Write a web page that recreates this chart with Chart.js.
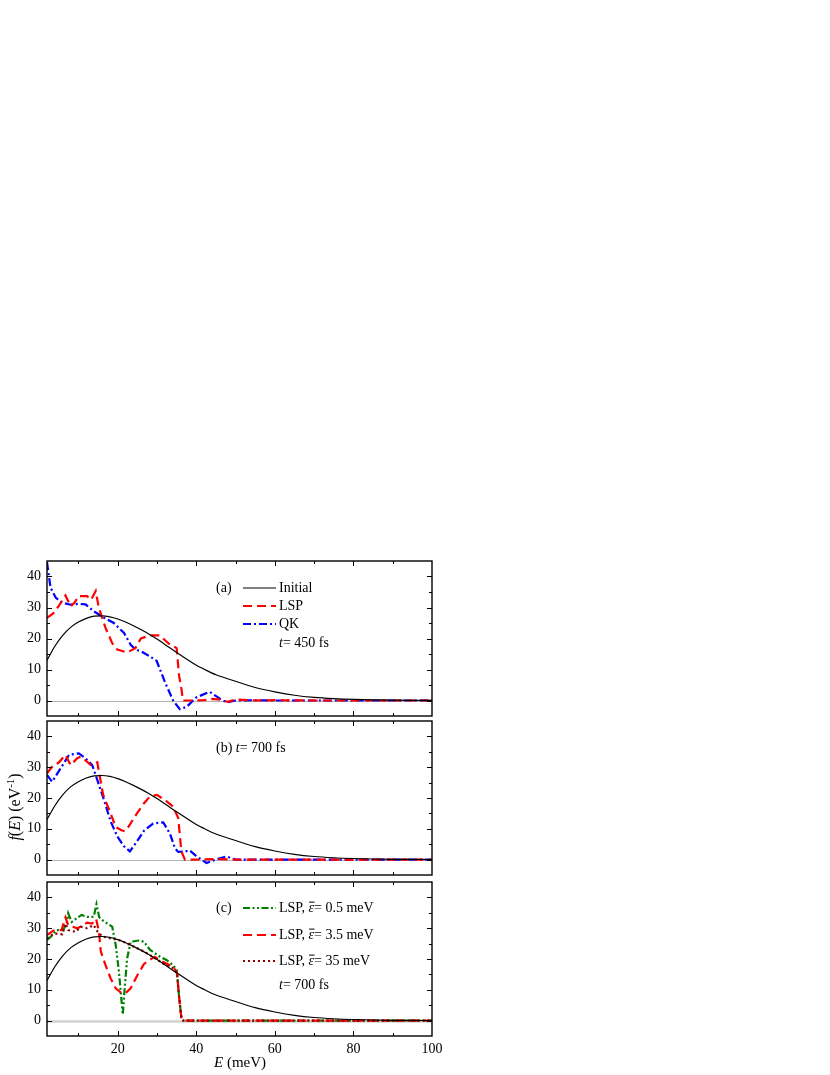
<!DOCTYPE html>
<html lang="en">
<head>
  <meta charset="UTF-8" />
  <title>f(E) at t = 450 fs and 700 fs</title>
  <script src="https://cdn.jsdelivr.net/npm/chart.js"></script>
  <style>
    html, body {
      margin: 0;
      padding: 0;
      background-color: white;
    }
    body {
      width: 830px;
      height: 1075px;
      position: relative;
      overflow: hidden;
    }
    .panel {
      position: absolute;
      left: 0;
    }
  </style>
</head>
<body>
  <canvas id="pa" class="panel" width="470" height="165" style="top:556px"></canvas>
  <canvas id="pb" class="panel" width="470" height="164" style="top:716px"></canvas>
  <canvas id="pc" class="panel" width="470" height="198" style="top:877px"></canvas>

  <script>
    const FONT = '"Liberation Serif", "DejaVu Serif", serif';
    const xTicks = [20, 40, 60, 80, 100];
    const yTicks = [0, 10, 20, 30, 40];

    // Initial distribution (same in all panels)
    const initE = [2, 4, 6, 8, 10, 12, 14, 16, 18, 20, 22, 24, 26, 28, 30, 32, 35, 38, 40, 42, 45, 50, 55, 60, 65, 70, 75, 80, 85, 90, 95, 100];
    const initF = [13, 17.5, 21, 23.6, 25.3, 26.5, 27.2, 27.3, 27, 26.3, 25.3, 24.1, 22.8, 21.4, 19.8, 18.1, 15.5, 13, 11.4, 10.1, 8.3, 6.2, 4.2, 2.8, 1.7, 1.0, 0.6, 0.35, 0.2, 0.1, 0.05, 0.03];

    // (a) t = 450 fs
    const lspAE = [2, 3.5, 5, 6.7, 8, 9, 10, 12.2, 13.2, 14.4, 15.2, 16.9, 18.6, 19.9, 22.4, 24.5, 25.9, 28.2, 30.7, 33.3, 35, 35.6, 36.2, 36.6, 40, 42, 44, 46, 48, 50, 55, 60, 70, 80, 90, 100];
    const lspAF = [26.7, 28, 30.5, 33.9, 30.4, 31.5, 33.7, 33.7, 32.5, 35.3, 29.9, 23.4, 18.5, 16.4, 15.5, 16.9, 20, 21, 21, 18, 16.9, 8.2, 3.9, 0, 0, 0.1, 0.5, 0.3, -0.4, 0.3, 0, 0.1, 0, 0, 0, 0];
    const qkAE = [2, 2.9, 4.2, 5.9, 8, 10, 11.8, 13.9, 16.5, 19, 21.6, 23.3, 24.5, 26, 28.2, 29.9, 32, 34.1, 35.8, 37.5, 40, 43.4, 46, 47.7, 50, 55, 60, 70, 80, 90, 100];
    const qkAF = [44.6, 36.4, 33.2, 31.5, 30.9, 31.2, 31, 28.8, 26.7, 25, 21.8, 18, 16.5, 15.8, 14.2, 12.8, 6, 0, -2.8, -2.1, 1, 2.8, 0.6, -0.6, 0, 0.1, 0, 0, 0, 0, 0];

    // (b) t = 700 fs
    const lspBE = [2, 3.5, 5, 6.7, 8, 9.7, 10.6, 12, 13.1, 14.8, 15.3, 16.3, 18.2, 19.5, 21, 21.8, 22.8, 24.9, 26.7, 28.2, 30, 32.4, 34.1, 35.4, 35.8, 36.2, 37.1, 40, 45, 50, 60, 70, 80, 90, 100];
    const lspBF = [28, 30.5, 31.5, 34, 30.7, 32.9, 33.4, 32, 30.7, 31.6, 28, 21, 15, 10.5, 9.5, 9.2, 10.8, 15, 18.3, 20.5, 21, 19, 17.2, 13.5, 8.1, 2.7, 0, 0, 0.2, 0, 0, 0, 0, 0, 0];
    const qkBE = [2, 3.3, 5.5, 7.6, 10.1, 11.8, 13.5, 14.8, 16.5, 18.2, 19.9, 21.6, 23.1, 24.9, 26.7, 29, 31.6, 33.3, 34.6, 35.4, 37, 38.3, 40, 42.6, 45, 47.7, 50, 60, 70, 80, 90, 100];
    const qkBF = [27.5, 25.3, 29.7, 34, 34.5, 32.9, 30.7, 25.9, 19.4, 12.4, 7.5, 4.3, 2.7, 5.9, 9.4, 11.7, 12.1, 8.4, 3.6, 2.5, 2.6, 3, 1.1, -1.1, 0, 1, 0, 0, 0, 0, 0, 0];

    // (c) LSP with different energy resolution
    const e05E = [2, 2.8, 4.5, 6.1, 7, 7.4, 8.3, 9.5, 10.8, 12.2, 13.9, 14.6, 15.3, 16.5, 18.6, 19.5, 20.3, 21, 21.3, 21.8, 22.4, 23.3, 25.4, 26.7, 28.2, 30.7, 32.4, 34.1, 35, 35.6, 36.2, 36.7, 40, 50, 60, 70, 80, 90, 100];
    const e05F = [26.2, 27, 29.4, 29.4, 31.6, 34.8, 32, 33.2, 34.3, 33.7, 33.7, 37.8, 33.5, 32.2, 30.5, 24.5, 16, 6, 2, 11, 20.2, 25.6, 26, 25.6, 23, 20.8, 19.7, 18, 16.5, 8, 1, 0, 0, 0, 0, 0, 0, 0, 0];
    const e35E = [2, 3.6, 5.7, 6.7, 7.4, 8.5, 9.7, 11, 12.2, 13.5, 14.5, 15.2, 15.7, 16.9, 18.2, 19.5, 20.7, 22, 23.3, 24.9, 26.7, 28.2, 29.4, 31.6, 34.1, 35.1, 35.6, 36.2, 36.7, 40, 50, 60, 70, 80, 90, 100];
    const e35F = [27.8, 29.2, 29.4, 33.5, 31, 30.5, 30, 30.8, 31.8, 31.5, 33, 29, 22.4, 18, 13.7, 10.5, 9.2, 8.9, 10.5, 14.5, 18.4, 19.8, 20.7, 19, 17.5, 15.5, 8, 1, 0, 0, 0, 0, 0, 0, 0, 0];
    const e350E = [2, 3.8, 5.9, 6.7, 7.4, 9.3, 10.6, 12.2, 13.9, 14.8, 16.1, 18.2, 20.7, 23.3, 25.8, 28.2, 31.6, 34.1, 35.1, 35.6, 36.2, 36.7, 40, 50, 60, 70, 80, 90, 100];
    const e350F = [26.7, 28.3, 28, 31.5, 29.4, 28.8, 30.5, 30, 31, 29, 27.3, 26.7, 26, 24.5, 23, 21.3, 18.5, 17, 15.4, 8, 1, 0, 0, 0, 0, 0, 0, 0, 0];

    const STY = {
      initial: { color: '#000000', dash: [], width: 1.2 },
      lsp:     { color: '#ff0000', dash: [9, 5], width: 2.2 },
      qk:      { color: '#0000ff', dash: [8, 3, 2, 3], width: 2.2 },
      e05:     { color: '#008000', dash: [7, 2.5, 2, 2.5, 2, 2.5], width: 2.2 },
      e35:     { color: '#ff0000', dash: [9, 5], width: 2.2 },
      e350:    { color: '#8b0000', dash: [2, 3], width: 2.2 }
    };

    function series(label, xs, ys, st, smooth) {
      return {
        label: label,
        data: xs.map((x, i) => ({ x: x, y: ys[i] })),
        borderColor: st.color,
        borderDash: st.dash,
        borderWidth: st.width,
        pointRadius: 0,
        fill: false,
        tension: smooth ? 0.4 : 0,
        cubicInterpolationMode: smooth ? 'monotone' : 'default'
      };
    }

    function setFont(ctx, r, size) {
      const sz = r.sup ? size * 0.68 : size;
      ctx.font = (r.italic ? 'italic ' : '') + sz + 'px ' + FONT;
    }

    function runsWidth(ctx, runs, size) {
      let w = 0;
      for (const r of runs) { setFont(ctx, r, size); w += ctx.measureText(r.t).width; }
      return w;
    }

    // text made of normal / italic / superscript pieces
    function drawRuns(ctx, x, y, runs, size) {
      ctx.save();
      ctx.fillStyle = '#000';
      ctx.strokeStyle = '#000';
      ctx.textBaseline = 'middle';
      ctx.textAlign = 'left';
      for (const r of runs) {
        setFont(ctx, r, size);
        const dy = r.sup ? -size * 0.33 : 0;
        ctx.fillText(r.t, x, y + dy);
        const w = ctx.measureText(r.t).width;
        if (r.bar) {
          ctx.lineWidth = 1;
          ctx.beginPath();
          ctx.moveTo(x + 0.5, y - size * 0.42);
          ctx.lineTo(x + w + 0.5, y - size * 0.42);
          ctx.stroke();
        }
        x += w;
      }
      ctx.restore();
      return x;
    }

    function sample(ctx, x1, x2, y, st) {
      ctx.save();
      ctx.strokeStyle = st.color;
      ctx.lineWidth = st.width;
      ctx.setLineDash(st.dash);
      ctx.beginPath();
      ctx.moveTo(x1, y);
      ctx.lineTo(x2, y);
      ctx.stroke();
      ctx.restore();
    }

    function framePlugin(drawText, zeroStyle) {
      return {
        id: 'frame',
        beforeDatasetsDraw(chart) {
          const ctx = chart.ctx, a = chart.chartArea;
          const y0 = Math.round(chart.scales.y.getPixelForValue(0)) + 0.5;
          ctx.save();
          ctx.strokeStyle = zeroStyle.color;
          ctx.lineWidth = zeroStyle.width;
          ctx.beginPath();
          ctx.moveTo(a.left, y0);
          ctx.lineTo(a.right, y0);
          ctx.stroke();
          ctx.restore();
        },
        afterDraw(chart) {
          const ctx = chart.ctx, a = chart.chartArea;
          const x = chart.scales.x, y = chart.scales.y;
          ctx.save();
          ctx.strokeStyle = '#000';
          ctx.lineWidth = 1.4;
          ctx.strokeRect(a.left, a.top, a.right - a.left, a.bottom - a.top);
          ctx.lineWidth = 1;
          ctx.beginPath();
          for (let v = 10; v < 100; v += 10) {
            const px = Math.round(x.getPixelForValue(v)) + 0.5;
            const len = v % 20 === 0 ? 5 : 3;
            ctx.moveTo(px, a.bottom); ctx.lineTo(px, a.bottom - len);
            ctx.moveTo(px, a.top); ctx.lineTo(px, a.top + len);
          }
          for (let v = 0; v < 45; v += 5) {
            const py = Math.round(y.getPixelForValue(v)) + 0.5;
            const len = v % 10 === 0 ? 5 : 3;
            ctx.moveTo(a.left, py); ctx.lineTo(a.left + len, py);
            ctx.moveTo(a.right, py); ctx.lineTo(a.right - len, py);
          }
          ctx.stroke();
          ctx.restore();
          if (drawText) drawText(ctx, chart);
        }
      };
    }

    function makePanel(id, datasets, showX, drawText) {
      const tickFont = { family: FONT, size: 14 };
      const zero = showX ? { color: '#d2d2d2', width: 2.5 } : { color: '#b4b4b4', width: 1.2 };
      return new Chart(document.getElementById(id), {
        type: 'line',
        data: { datasets: datasets },
        options: {
          responsive: false,
          animation: false,
          layout: { padding: { left: 0, right: 38, top: 5, bottom: showX ? 0 : 5 } },
          plugins: { legend: { display: false }, tooltip: { enabled: false } },
          scales: {
            x: {
              type: 'linear',
              display: showX,
              min: 2,
              max: 100,
              afterBuildTicks: s => { s.ticks = xTicks.map(v => ({ value: v })); },
              afterFit: s => { s.height = showX ? 39 : 0; s.paddingLeft = 0; s.paddingRight = 0; },
              grid: { display: false, drawTicks: false },
              border: { display: false },
              ticks: { font: tickFont, color: '#000', padding: 5, maxRotation: 0, autoSkip: false }
            },
            y: {
              min: -5,
              max: 45,
              afterBuildTicks: s => { s.ticks = yTicks.map(v => ({ value: v })); },
              afterFit: s => { s.width = 47; s.paddingTop = 0; s.paddingBottom = 0; },
              grid: { display: false, drawTicks: false },
              border: { display: false },
              ticks: { font: tickFont, color: '#000', padding: 6 }
            }
          }
        },
        plugins: [framePlugin(drawText, zero)]
      });
    }

    const LEG = 14;

    // (a)
    makePanel('pa', [
      series('Initial', initE, initF, STY.initial, true),
      series('LSP', lspAE, lspAF, STY.lsp),
      series('QK', qkAE, qkAF, STY.qk)
    ], false, (ctx) => {
      const top = 556;
      drawRuns(ctx, 216, 588 - top, [{ t: '(a)' }], LEG);
      sample(ctx, 243, 276, 588 - top, STY.initial);
      drawRuns(ctx, 279, 588 - top, [{ t: 'Initial' }], LEG);
      sample(ctx, 243, 276, 606 - top, STY.lsp);
      drawRuns(ctx, 279, 606 - top, [{ t: 'LSP' }], LEG);
      sample(ctx, 243, 276, 624 - top, STY.qk);
      drawRuns(ctx, 279, 624 - top, [{ t: 'QK' }], LEG);
      drawRuns(ctx, 279, 643 - top, [{ t: 't', italic: true }, { t: '= 450 fs' }], LEG);
    });

    // (b)
    makePanel('pb', [
      series('Initial', initE, initF, STY.initial, true),
      series('LSP', lspBE, lspBF, STY.lsp),
      series('QK', qkBE, qkBF, STY.qk)
    ], false, (ctx) => {
      const top = 716;
      drawRuns(ctx, 216, 748 - top, [{ t: '(b) ' }, { t: 't', italic: true }, { t: '= 700 fs' }], LEG);
      // y axis title, centred on the middle panel
      const runs = [{ t: 'f', italic: true }, { t: '(' }, { t: 'E', italic: true }, { t: ') (eV' }, { t: '-1', sup: true }, { t: ')' }];
      const w = runsWidth(ctx, runs, 16);
      ctx.save();
      ctx.translate(16, 807 - top);
      ctx.rotate(-Math.PI / 2);
      drawRuns(ctx, -w / 2, 0, runs, 16);
      ctx.restore();
    });

    // (c)
    makePanel('pc', [
      series('Initial', initE, initF, STY.initial, true),
      series('LSP, 35 meV', e350E, e350F, STY.e350),
      series('LSP, 3.5 meV', e35E, e35F, STY.e35),
      series('LSP, 0.5 meV', e05E, e05F, STY.e05)
    ], true, (ctx, chart) => {
      const top = 877;
      drawRuns(ctx, 216, 908 - top, [{ t: '(c)' }], LEG);
      const rows = [[908, STY.e05, '0.5'], [935, STY.e35, '3.5'], [961, STY.e350, '35']];
      rows.forEach(r => {
        sample(ctx, 243, 276, r[0] - top, r[1]);
        drawRuns(ctx, 279, r[0] - top, [{ t: 'LSP, ' }, { t: 'ε', italic: true, bar: true }, { t: '= ' + r[2] + ' meV' }], LEG);
      });
      drawRuns(ctx, 279, 985 - top, [{ t: 't', italic: true }, { t: '= 700 fs' }], LEG);
      // x axis title
      const runs = [{ t: 'E', italic: true }, { t: ' (meV)' }];
      const w = runsWidth(ctx, runs, 15);
      drawRuns(ctx, 240 - w / 2, 1063 - top, runs, 15);
    });
  </script>
</body>
</html>
